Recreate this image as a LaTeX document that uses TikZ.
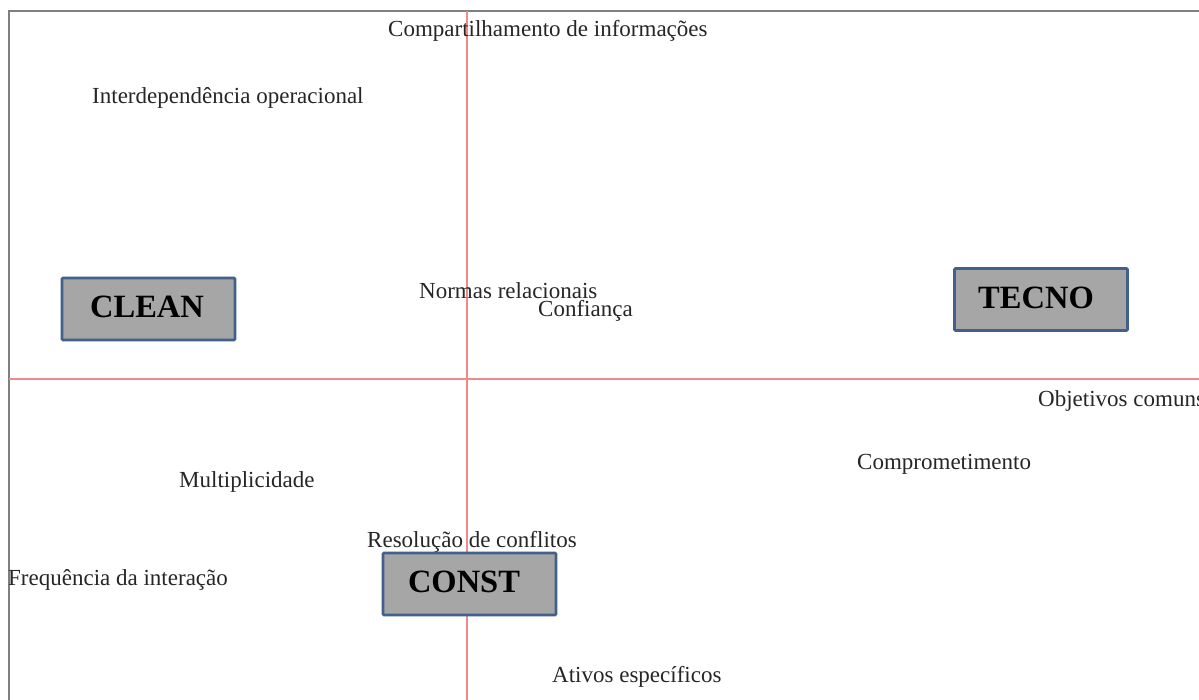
\documentclass[tikz,border=0pt]{standalone}
\usepackage{fontspec}
\setmainfont{Liberation Serif}
\definecolor{axisred}{HTML}{F08A8A}
\definecolor{framegray}{HTML}{7F7F7F}
\definecolor{boxfill}{HTML}{A6A6A6}
\definecolor{boxline}{HTML}{41608A}
\tikzset{
  item/.style={anchor=west, inner sep=0pt, font=\fontsize{23}{26}\selectfont, text=black!85},
  group/.style={draw=boxline, line width=2.6pt, fill=boxfill, rounded corners=1pt,
    minimum width=173pt, minimum height=62pt, inner sep=0pt,
    font=\fontsize{32.5}{36}\selectfont\bfseries}
}
\tikzset{
  axis/.style={draw=axisred, line width=1.8pt},
  frame/.style={draw=framegray, line width=1.8pt}
}
% shift a label inside its box: horizontal offset, vertical raise
\newcommand{\boxlabel}[3]{\hspace*{#1}\raisebox{#2}{#3}}
\begin{document}
\begin{tikzpicture}[x=1pt,y=-1pt]
\useasboundingbox (0,0) rectangle (1199,700);
\clip (0,0) rectangle (1199,700);
\fill[white] (0,0) rectangle (1199,700);
% outer frame (left and top edges)
\coordinate (tl) at (9,11);
\coordinate (tr) at (1210,11);
\coordinate (bl) at (9,710);
\draw[frame] (bl) -- (tl) -- (tr);
% quadrant axes
\coordinate (vtop) at (467,11);
\coordinate (vbot) at (467,710);
\coordinate (hl) at (9,379);
\coordinate (hr) at (1210,379);
\draw[axis] (vtop) -- (vbot);
\draw[axis] (hl) -- (hr);
% variables
\node[item] (comp) at (388,31) {Compartilhamento de informações};
\node[item] (inter) at (92,98) {Interdependência operacional};
\node[item] (norm) at (419,291) {Normas relacionais};
\node[item] (conf) at (538,311) {Confiança};
\node[item] (obj) at (1038,401) {Objetivos comuns};
\node[item] (compr) at (857,464) {Comprometimento};
\node[item] (mult) at (179,482) {Multiplicidade};
\node[item] (resol) at (367,542) {Resolução de conflitos};
\node[item] (freq) at (8,580) {Frequência da interação};
\node[item] (ativ) at (552,677) {Ativos específicos};
% groups
\node[group] (clean) at (148.5,309) {\boxlabel{-3pt}{4pt}{CLEAN}};
\node[group] (tecno) at (1041,299.5) {\boxlabel{-10pt}{4.5pt}{TECNO}};
\node[group] (const) at (469.5,584) {\boxlabel{-11pt}{4pt}{CONST}};
\end{tikzpicture}
\end{document}
